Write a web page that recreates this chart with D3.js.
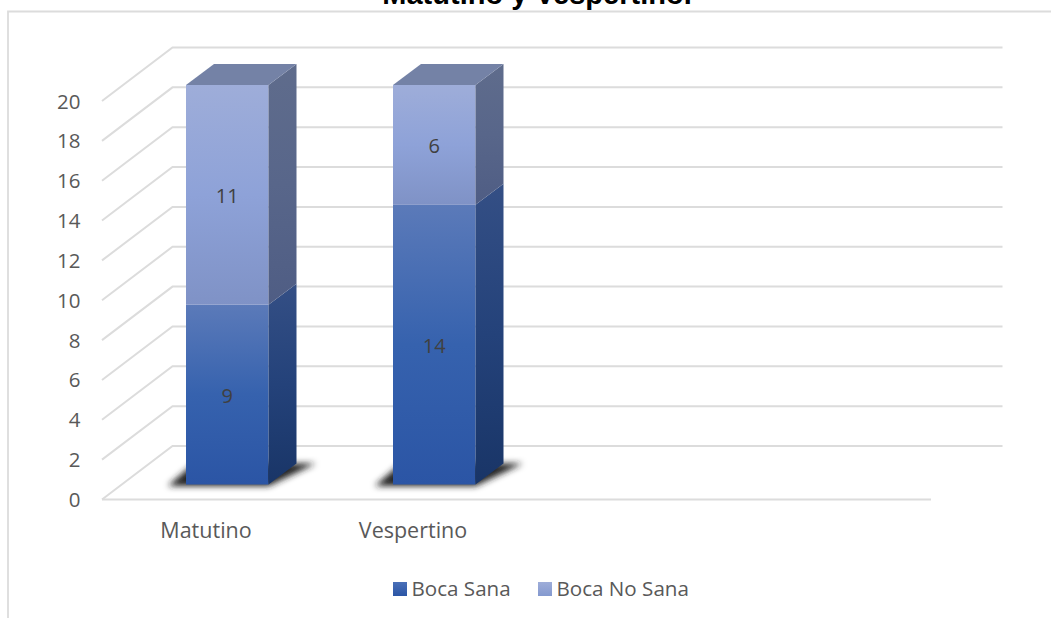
<!DOCTYPE html>
<html><head><meta charset="utf-8">
<script src="https://cdn.jsdelivr.net/npm/d3@7"></script>
<style>html,body{margin:0;padding:0;background:#fff;overflow:hidden}svg{display:block}text{font-family:"Open Sans","Noto Sans",sans-serif}</style>
</head><body><svg id="c" width="1051" height="618"></svg>
<script>
const categories = ["Matutino", "Vespertino"];
const bocaSana = [9, 14];
const bocaNoSana = [11, 6];
const seriesNames = ["Boca Sana", "Boca No Sana"];
const yTicks = [0,2,4,6,8,10,12,14,16,18,20];
const titleText = "Matutino y Vespertino.";

const svg = d3.select("#c");
const W = 1051, H = 618;
const defs = svg.append("defs");
function grad(id, stops){
  const g = defs.append("linearGradient").attr("id", id).attr("x1",0).attr("y1",0).attr("x2",0).attr("y2",1);
  stops.forEach((c,i)=>g.append("stop").attr("offset",i/(stops.length-1)).attr("stop-color",c));
}
grad("sanaF",["#5b7ab9","#3662ae","#2b55a5"]);
grad("sanaS",["#344f85","#24427a","#193567"]);
grad("noF",["#9eadd9","#8ea2d8","#7f92c6"]);
grad("noS",["#5f6c8c","#58668a","#4f5d84"]);
grad("leg1",["#4a70b8","#2b55a5"]);
grad("leg2",["#9eadd9","#8499cf"]);
const blur = defs.append("filter").attr("id","blur").attr("x","-30%").attr("y","-60%").attr("width","160%").attr("height","220%");
blur.append("feGaussianBlur").attr("stdDeviation",3);

svg.append("path").attr("d",`M8 ${H} V11.5 H${W}`).attr("fill","none").attr("stroke","#dcdcdc").attr("stroke-width",1.8);

svg.append("text").text(titleText).attr("x",537).attr("y",3.5).attr("text-anchor","middle")
  .style("font-family","'Liberation Sans',Arial,sans-serif").style("font-weight","700").style("font-size","29px").attr("fill","#000");

const y = d3.scaleLinear().domain([0,20]).range([499.5,101]);
const dx = 70.5, dy = -53.5, x0 = 102, x1 = 931;
const barY = d3.scaleLinear().domain([0,20]).range([484.5,85]);
const bx = d3.scalePoint().domain(categories).range([186,393]);
const bw = 82.5, ddx = 28, ddy = -21;

const grid = svg.append("g").attr("fill","none").attr("stroke","#dcdcdc").attr("stroke-width",2);
grid.selectAll("path").data(yTicks).join("path")
  .attr("d", d => `M${x0} ${y(d)} L${x0+dx} ${y(d)+dy} H${x1+dx+1}`);
grid.append("path").attr("d",`M${x0} ${y(0)} H${x1}`);

svg.append("g").selectAll("text").data(yTicks).join("text")
  .attr("x",80.5).attr("y",d=>y(d)+7.5).attr("text-anchor","end").attr("fill","#595959").style("font-size","20.5px").text(d=>d);

const rows = categories.map((c,i)=>({c, a:bocaSana[i], b:bocaNoSana[i]}));
const g = svg.append("g");
rows.forEach(r=>{
  const l = bx(r.c);
  g.append("path").attr("filter","url(#blur)").attr("fill","#222")
   .attr("d",`M${l-18} ${barY(0)+1.5} L${l+8} ${barY(0)-21} H${l+bw+ddx+19} L${l+bw} ${barY(0)+1.5} Z`);
});
rows.forEach(r=>{
  const l = bx(r.c), R = l+bw;
  [[0,r.a,"sanaF","sanaS"],[r.a,r.a+r.b,"noF","noS"]].forEach(([v0,v1,f,s])=>{
    g.append("rect").attr("x",l).attr("y",barY(v1)).attr("width",bw).attr("height",barY(v0)-barY(v1)).attr("fill",`url(#${f})`);
    g.append("path").attr("fill",`url(#${s})`)
      .attr("d",`M${R} ${barY(v0)} L${R+ddx} ${barY(v0)+ddy} V${barY(v1)+ddy} L${R} ${barY(v1)} Z`);
  });
  const t = barY(r.a+r.b);
  g.append("path").attr("fill","#7482a6").attr("d",`M${l} ${t} L${l+ddx} ${t+ddy} H${R+ddx} L${R} ${t} Z`);
  const txt = (v,mid)=>g.append("text").attr("x",l+bw/2).attr("y",barY(mid)+8).attr("text-anchor","middle").attr("fill","#404040").style("font-size","20px").text(v);
  txt(r.a,r.a/2); txt(r.b,r.a+r.b/2);
});

svg.append("g").selectAll("text").data(categories).join("text")
  .attr("x",d=>bx(d)+20).attr("y",538).attr("text-anchor","middle").attr("fill","#595959").style("font-size","21.5px").text(d=>d);

const legX = [393,538];
const legF = ["url(#leg1)","url(#leg2)"];
seriesNames.forEach((n,i)=>{
  svg.append("rect").attr("x",legX[i]).attr("y",582).attr("width",14).attr("height",14).attr("fill",legF[i]);
  svg.append("text").attr("x",legX[i]+18.5).attr("y",596).attr("fill","#595959").style("font-size","20.6px").text(n);
});
</script></body></html>
